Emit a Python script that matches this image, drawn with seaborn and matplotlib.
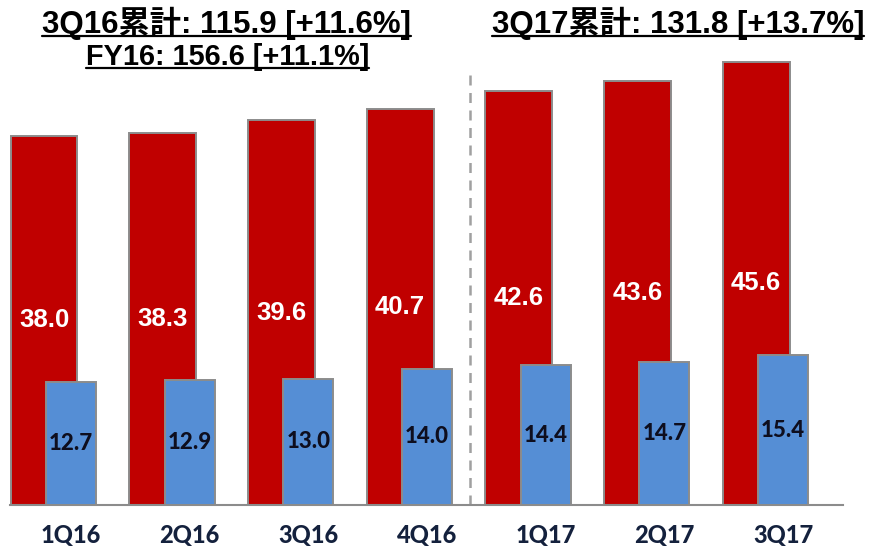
import matplotlib
matplotlib.use("Agg")
import matplotlib.pyplot as plt
from matplotlib.lines import Line2D
import numpy as np
import seaborn as sns

# ── data ────────────────────────────────────────────────────────────────────
quarters = ["1Q16", "2Q16", "3Q16", "4Q16", "1Q17", "2Q17", "3Q17"]
red_values = [38.0, 38.3, 39.6, 40.7, 42.6, 43.6, 45.6]
blue_values = [12.7, 12.9, 13.0, 14.0, 14.4, 14.7, 15.4]

title_left = "3Q16累計: 115.9 [+11.6%]"
title_left_sub = "FY16: 156.6 [+11.1%]"
title_right = "3Q17累計: 131.8 [+13.7%]"

RED = "#C00000"
BLUE = "#558ED5"
EDGE = "#8C8C8C"
NAVY = "#14213D"
TITLE_FONT = ["Liberation Sans", "Noto Sans CJK JP", "DejaVu Sans"]

W, H = 871, 549

sns.set_style("white")
plt.rcParams["font.family"] = TITLE_FONT

fig = plt.figure(figsize=(W / 100, H / 100), dpi=100)
ax = fig.add_axes([10 / W, 44 / H, 833 / W, 486 / H])

idx = np.arange(len(quarters))
red_pos = idx - 0.2275
blue_pos = idx.astype(float)

sns.barplot(x=red_pos, y=red_values, native_scale=True, width=0.564,
            color=RED, saturation=1, edgecolor=EDGE, linewidth=1.4,
            errorbar=None, ax=ax, zorder=2)
sns.barplot(x=blue_pos, y=blue_values, native_scale=True, width=0.421,
            color=BLUE, saturation=1, edgecolor=EDGE, linewidth=1.4,
            errorbar=None, ax=ax, zorder=3)

ax.set_xlim(-0.514, 6.504)
ax.set_ylim(0, 50)

# value labels in the middle of each bar
for x, v in zip(red_pos, red_values):
    ax.text(x, v / 2, f"{v:.1f}", ha="center", va="center", color="white",
            fontsize=18.5, fontweight="bold", family="Liberation Sans", zorder=4)
for x, v in zip(blue_pos, blue_values):
    ax.text(x, v / 2, f"{v:.1f}", ha="center", va="center", color="#0E0E1E",
            fontsize=16, fontweight="black", family="Lato", zorder=4)

# separator between fiscal years
ax.plot([3.361, 3.361], [0, 44.5], color="#A0A0A0", lw=1.8,
        dashes=(4, 3), zorder=1)

ax.set_xticks(blue_pos)
ax.set_xticklabels(quarters, fontsize=17, fontweight="black", family="Lato",
                   color=NAVY)
ax.tick_params(axis="x", length=0, pad=14)
ax.set_yticks([])
ax.set_xlabel("")
ax.set_ylabel("")
sns.despine(ax=ax, left=True)
ax.spines["bottom"].set_color("#8C8C8C")
ax.spines["bottom"].set_linewidth(1.5)

# headline texts (underlined)
heads = [
    (226.5, 33, title_left, 22.5),
    (227.5, 65, title_left_sub, 20.8),
    (678, 33, title_right, 22.5),
]
texts = []
for cx, base, s, size in heads:
    t = fig.text(cx / W, 1 - base / H, s, ha="center", va="baseline",
                 fontsize=size, fontweight="bold", family=TITLE_FONT,
                 color="black")
    texts.append((t, base))

fig.canvas.draw()
for t, base in texts:
    bb = t.get_window_extent()
    y = 1 - (base + 3) / H
    fig.add_artist(Line2D([bb.x0 / W, bb.x1 / W], [y, y], color="black",
                          lw=1.6, transform=fig.transFigure))

fig.savefig("out.png", dpi=100)
